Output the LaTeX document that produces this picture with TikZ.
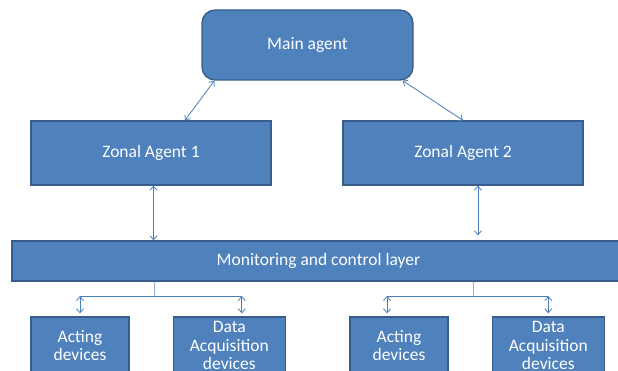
\documentclass[tikz,border=0pt]{standalone}
\usepackage{fontspec}
\setmainfont{Carlito}
\usetikzlibrary{positioning, arrows.meta}
\definecolor{boxblue}{HTML}{4F81BD}
\definecolor{boxline}{HTML}{385D8A}
\definecolor{linkblue}{HTML}{4A7EBB}
\definecolor{branchblue}{HTML}{95B3D7}
\tikzset{
    >={Straight Barb[length=4pt,width=7pt]}, % thin open arrow heads
    agent/.style={draw=boxline, fill=boxblue, line width=1.3pt, text=white,
        font=\fontsize{17.5}{18.5}\selectfont, align=center, inner sep=0pt}, % every blue box
    link/.style={<->, draw=linkblue, line width=0.8pt}, % two-way connectors
    branch/.style={draw=linkblue, line width=0.9pt}, % plain fork lines
}

\begin{document}
\begin{tikzpicture}[x=1pt, y=-1pt]
    \path[use as bounding box, clip] (0,0) rectangle (618,371);
    \node[agent, rounded corners=13pt, minimum width=211pt, minimum height=70pt] (main) at (307.5,45) {Main agent};
    \node[agent, minimum width=240pt, minimum height=64pt] (za1) at (151,153) {Zonal Agent 1};
    \node[agent, minimum width=240pt, minimum height=64pt] (za2) at (463,153) {Zonal Agent 2};
    \node[agent, minimum width=613pt, minimum height=40pt] (layer) at (318.5,261) {Monitoring and control layer};
    \node[agent, minimum width=98pt, minimum height=57pt] (act1) at (80,345.5) {Acting\\devices};
    \node[agent, minimum width=112pt, minimum height=57pt, right=43pt of act1] (daq1) {Data\\Acquisition\\devices};
    \node[agent, minimum width=98pt, minimum height=57pt] (act2) at (399,345.5) {Acting\\devices};
    \node[agent, minimum width=112pt, minimum height=57pt, right=43pt of act2] (daq2) {Data\\Acquisition\\devices};
    % agents
    \draw[link] ([xshift=13pt]main.south west) -- ([xshift=34pt]za1.north);
    \draw[link] ([xshift=-11pt]main.south east) -- (za2.north);
    \draw[link] ([xshift=2.5pt]za1.south) -- ([xshift=2.5pt]za1.south |- layer.north);
    \draw[link, shorten >=5pt] ([xshift=15pt]za2.south) -- ([xshift=15pt]za2.south |- layer.north);
    % device forks
    \coordinate (hub1) at (154,296);
    \coordinate (hub2) at (473,296);
    \draw[branch, draw=branchblue] (layer.south -| hub1) -- (hub1);
    \draw[branch, draw=branchblue] (layer.south -| hub2) -- (hub2);
    \draw[branch] (act1.north |- hub1) -- ([xshift=12.5pt]daq1.north |- hub1);
    \draw[branch] ([xshift=-12pt]act2.north |- hub2) -- (daq2.north |- hub2);
    \draw[link, shorten >=3pt] (act1.north |- hub1) -- (act1.north);
    \draw[link, shorten >=3pt] ([xshift=12.5pt]daq1.north |- hub1) -- ([xshift=12.5pt]daq1.north);
    \draw[link, shorten >=3pt] ([xshift=-12pt]act2.north |- hub2) -- ([xshift=-12pt]act2.north);
    \draw[link, shorten >=3pt] (daq2.north |- hub2) -- (daq2.north);
\end{tikzpicture}
\end{document}
